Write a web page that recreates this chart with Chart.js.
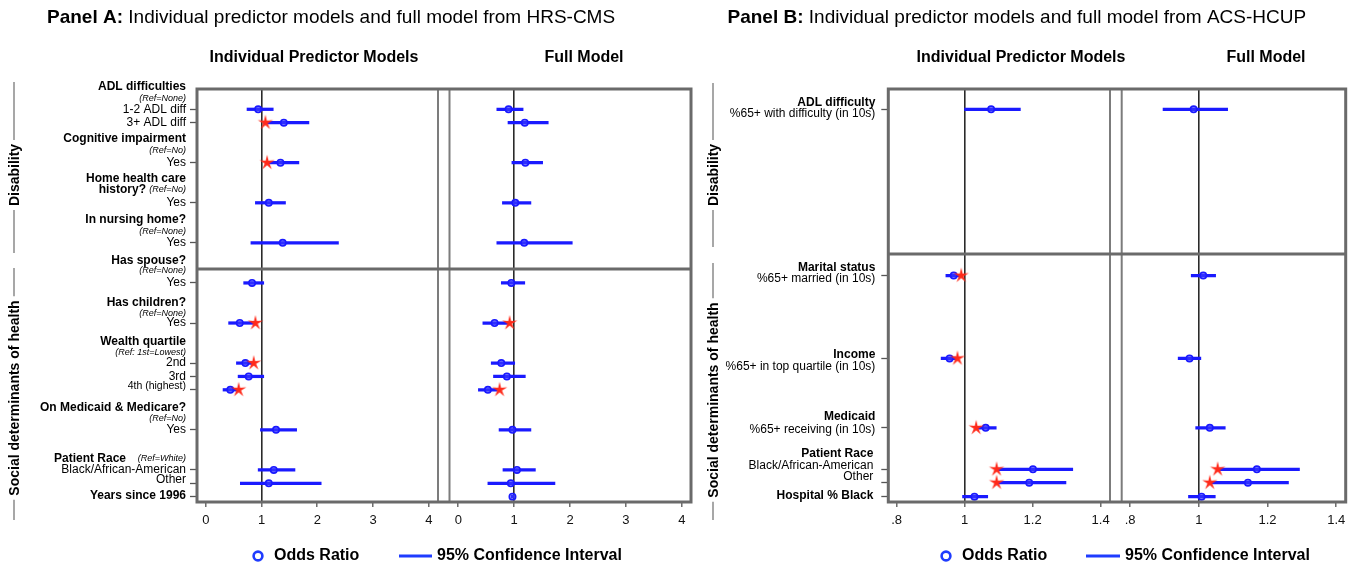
<!DOCTYPE html>
<html>
<head>
<meta charset="utf-8">
<script src="https://cdn.jsdelivr.net/npm/chart.js@4.4.1/dist/chart.umd.min.js"></script>
<style>
html, body { margin: 0; padding: 0; background: #fff; }
#wrap { position: relative; width: 1359px; height: 568px; }
#wrap canvas { position: absolute; left: 0; top: 0; }
</style>
</head>
<body>
<div id="wrap">
  <canvas id="aInd" width="1359" height="568"></canvas>
  <canvas id="aFull" width="1359" height="568"></canvas>
  <canvas id="bInd" width="1359" height="568"></canvas>
  <canvas id="bFull" width="1359" height="568"></canvas>
</div>
<script>
// ---- Panel A data (HRS-CMS) : one entry per row, null = no estimate
var rowsA = [0, 1, 4, 7, 10, 13, 16, 19, 20, 21, 24, 27, 28, 29];
var indOrA = [0.94, 1.40, 1.34, 1.13, 1.38, 0.83, 0.61, 0.71, 0.77, 0.44, 1.26, 1.22, 1.13, null];
var indLoA = [0.74, 1.04, 1.08, 0.89, 0.81, 0.68, 0.41, 0.55, 0.58, 0.31, 0.98, 0.94, 0.62, null];
var indHiA = [1.21, 1.85, 1.67, 1.43, 2.38, 1.04, 0.88, 0.85, 1.04, 0.57, 1.63, 1.60, 2.07, null];
var indStarA = [null, 1.07, 1.10, null, null, null, 0.89, 0.86, null, 0.59, null, null, null, null];
var fullOrA = [0.90, 1.19, 1.20, 1.02, 1.18, 0.95, 0.65, 0.77, 0.87, 0.53, 0.97, 1.05, 0.94, 0.97];
var fullLoA = [0.69, 0.89, 0.96, 0.79, 0.69, 0.77, 0.44, 0.59, 0.63, 0.36, 0.73, 0.80, 0.53, 0.95];
var fullHiA = [1.16, 1.61, 1.51, 1.30, 2.04, 1.19, 0.89, 1.01, 1.20, 0.70, 1.30, 1.38, 1.73, 0.99];
var fullStarA = [null, null, null, null, null, null, 0.92, null, null, 0.74, null, null, null, null];
var ticksA = [0, 1, 2, 3, 4];
var tickLabelsA = ['0', '1', '2', '3', '4'];

// ---- Panel B data (ACS-HCUP)
var rowsB = [0, 12.45, 18.65, 23.85, 26.95, 27.95, 29];
var indOrB = [1.078, 0.968, 0.956, 1.062, 1.201, 1.190, 1.029];
var indLoB = [1.000, 0.945, 0.931, 1.035, 1.095, 1.095, 0.994];
var indHiB = [1.164, 0.985, 0.975, 1.093, 1.318, 1.298, 1.068];
var indStarB = [null, 0.990, 0.979, 1.034, 1.094, 1.094, null];
var fullOrB = [0.985, 1.013, 0.973, 1.032, 1.169, 1.143, 1.008];
var fullLoB = [0.896, 0.978, 0.940, 0.991, 1.060, 1.035, 0.970];
var fullHiB = [1.084, 1.049, 1.006, 1.077, 1.293, 1.261, 1.048];
var fullStarB = [null, null, null, null, 1.055, 1.032, null];
var ticksB = [0.8, 1, 1.2, 1.4];
var tickLabelsB = ['.8', '1', '1.2', '1.4'];

// row labels: [row, text, style, dx]
var labelsA = [
    [-1.69, 'ADL difficulties', 'b'], [-0.82, '(Ref=None)', 'i'],
    [0, '1-2 ADL diff', 'n'], [1, '3+ ADL diff', 'n'],
    [2.22, 'Cognitive impairment', 'b'], [3.05, '(Ref=No)', 'i'], [4, 'Yes', 'n'],
    [5.22, 'Home health care', 'b'], [6.04, 'history?', 'b', -40], [6.04, '(Ref=No)', 'i'], [7, 'Yes', 'n'],
    [8.29, 'In nursing home?', 'b'], [9.16, '(Ref=None)', 'i'], [10, 'Yes', 'n'],
    [11.35, 'Has spouse?', 'b'], [12.1, '(Ref=None)', 'i'], [13, 'Yes', 'n'],
    [14.48, 'Has children?', 'b'], [15.32, '(Ref=None)', 'i'], [16, 'Yes', 'n'],
    [17.4, 'Wealth quartile', 'b'], [18.22, '(Ref: 1st=Lowest)', 'i'],
    [19, '2nd', 'n'], [20, '3rd', 'n'], [20.69, '4th (highest)', 's'],
    [22.34, 'On Medicaid & Medicare?', 'b'], [23.18, '(Ref=No)', 'i'], [24, 'Yes', 'n'],
    [26.12, 'Patient Race', 'b', -60], [26.12, '(Ref=White)', 'i'],
    [27, 'Black/African-American', 'n'], [27.75, 'Other', 'n'],
    [28.92, 'Years since 1996', 'b']
];
var labelsB = [
    [-0.5, 'ADL difficulty', 'b'], [0.3, '%65+ with difficulty (in 10s)', 'n'],
    [11.83, 'Marital status', 'b'], [12.7, '%65+ married (in 10s)', 'n'],
    [18.34, 'Income', 'b'], [19.27, '%65+ in top quartile (in 10s)', 'n'],
    [23.0, 'Medicaid', 'b'], [23.95, '%65+ receiving (in 10s)', 'n'],
    [25.82, 'Patient Race', 'b', -2], [26.68, 'Black/African-American', 'n', -2], [27.5, 'Other', 'n', -2],
    [28.92, 'Hospital % Black', 'b', -2]
];

var W = 1359, H = 568;
var FONT = '"Liberation Sans", Arial, Helvetica, sans-serif';
var BLUE = '#1a1aff';
var RED = '#ff2a1a';
var FRAME = '#6a6a6a';

function makeStar() {
    var c = document.createElement('canvas');
    c.width = 18; c.height = 18;
    var g = c.getContext('2d');
    g.fillStyle = RED;
    g.beginPath();
    for (var k = 0; k < 10; k++) {
        var a = -Math.PI / 2 + k * Math.PI / 5;
        var r = k % 2 == 0 ? 8 : 2.5;
        var px = 9 + r * Math.cos(a), py = 9 + r * Math.sin(a);
        if (k == 0) g.moveTo(px, py); else g.lineTo(px, py);
    }
    g.closePath();
    g.fill();
    return c;
}
var starImg = makeStar();

function forest(id, o) {
    var ci = [], pts = [], stars = [];
    o.rows.forEach(function (r, i) {
        if (o.lo[i] != null) ci.push({y: r, x: [o.lo[i], o.hi[i]]});
        if (o.or[i] != null) pts.push({x: o.or[i], y: r});
        if (o.star[i] != null) stars.push({x: o.star[i], y: r});
    });
    return new Chart(document.getElementById(id), {
        type: 'scatter',
        data: {
            datasets: [
                {type: 'bar', indexAxis: 'y', data: ci, backgroundColor: BLUE, borderWidth: 0, barThickness: 2.6, order: 3},
                {data: pts, pointRadius: 3.2, pointBackgroundColor: 'rgba(60,60,255,0.6)', pointBorderColor: BLUE, pointBorderWidth: 1.6, order: 2},
                {data: stars, pointStyle: starImg, pointRadius: 7, order: 1}
            ]
        },
        options: {
            responsive: false,
            animation: false,
            events: [],
            layout: {padding: {left: o.left, right: W - o.right, top: 89, bottom: 0}},
            plugins: {legend: {display: false}, tooltip: {enabled: false}},
            scales: {
                x: {
                    type: 'linear', min: o.xMin, max: o.xMax, offset: false,
                    afterBuildTicks: function (s) {
                        s.ticks = o.ticks.map(function (v) { return {value: v}; });
                    },
                    afterFit: function (s) { s.height = H - 502; },
                    ticks: {
                        autoSkip: false, maxRotation: 0, padding: 6, color: '#111',
                        font: {family: FONT, size: 13},
                        callback: function (v, i) { return o.tickLabels[i]; }
                    },
                    grid: {
                        offset: false, lineWidth: 1.6, tickLength: 5, tickWidth: 1.3, tickColor: '#555',
                        color: function (c) {
                            return c.tick && Math.abs(c.tick.value - 1) < 1e-9 ? '#2a2a2a' : 'rgba(0,0,0,0)';
                        }
                    },
                    border: {display: false}
                },
                y: {
                    type: 'linear', reverse: true, min: o.yMin, max: o.yMax, offset: false,
                    display: o.yTicks,
                    afterBuildTicks: function (s) {
                        s.ticks = o.rows.map(function (v) { return {value: v}; });
                    },
                    afterFit: function (s) { s.width = 0; },
                    ticks: {display: false, autoSkip: false},
                    grid: {offset: false, drawOnChartArea: false, tickLength: 7, tickWidth: 1.3, tickColor: '#555'},
                    border: {display: false}
                }
            }
        },
        plugins: o.plugins || []
    });
}

function line(ctx, x1, y1, x2, y2) {
    ctx.beginPath(); ctx.moveTo(x1, y1); ctx.lineTo(x2, y2); ctx.stroke();
}
function txt(ctx, s, x, y, font, align) {
    ctx.font = font;
    ctx.textAlign = align || 'left';
    ctx.textBaseline = 'middle';
    ctx.fillStyle = '#000';
    ctx.fillText(s, x, y);
}
var STYLES = {
    b: 'bold 12px ' + FONT,
    n: '12px ' + FONT,
    i: 'italic 9px ' + FONT,
    s: '10.5px ' + FONT
};

function vlabel(ctx, s, x, top, mid, bottom) {
    ctx.font = 'bold 14px ' + FONT;
    var half = ctx.measureText(s).width / 2 + 4;
    ctx.strokeStyle = '#8a8a8a';
    ctx.lineWidth = 1.5;
    line(ctx, x - 1, top, x - 1, mid - half);
    line(ctx, x - 1, mid + half, x - 1, bottom);
    ctx.save();
    ctx.translate(x, mid);
    ctx.rotate(-Math.PI / 2);
    txt(ctx, s, 0, 0, 'bold 14px ' + FONT, 'center');
    ctx.restore();
}

// panel decoration, drawn by the right-hand chart of each panel
function panelPlugin(P) {
    return {
        id: 'panel' + P.key,
        afterDraw: function (chart) {
            var left = P.left;
            var ctx = chart.ctx;
            var la = left.chartArea, ra = chart.chartArea;
            var ys = left.scales.y;
            ctx.save();
            // frames
            ctx.strokeStyle = '#7c7c7c';
            ctx.lineWidth = 2;
            line(ctx, la.right, la.top, la.right, la.bottom);
            line(ctx, ra.left, ra.top, ra.left, ra.bottom);
            ctx.strokeStyle = FRAME;
            ctx.lineWidth = 3;
            ctx.strokeRect(la.left, la.top, ra.right - la.left, la.bottom - la.top);
            var yd = ys.getPixelForValue(P.divider);
            line(ctx, la.left, yd, ra.right, yd);

            // row labels
            P.labels.forEach(function (l) {
                txt(ctx, l[1], la.left + P.labelDx + (l[3] || 0), ys.getPixelForValue(l[0]), STYLES[l[2]], 'right');
            });

            // titles
            ctx.font = 'bold 19px ' + FONT;
            var w = ctx.measureText(P.titleBold + ' ').width;
            txt(ctx, P.titleBold, P.titleX, 18, 'bold 19px ' + FONT);
            txt(ctx, P.title, P.titleX + w, 18, '19px ' + FONT);
            txt(ctx, 'Individual Predictor Models', P.colX[0], 58, 'bold 16px ' + FONT, 'center');
            txt(ctx, 'Full Model', P.colX[1], 58, 'bold 16px ' + FONT, 'center');

            // group labels
            vlabel(ctx, 'Disability', P.gx, P.g1[0], P.g1[1], P.g1[2]);
            vlabel(ctx, 'Social determinants of health', P.gx, P.g2[0], P.g2[1], P.g2[2]);

            // legend
            var lx = P.legX, ly = 556;
            ctx.strokeStyle = '#1f3cff';
            ctx.lineWidth = 2.6;
            ctx.beginPath();
            ctx.arc(lx[0], ly, 4.4, 0, Math.PI * 2);
            ctx.stroke();
            txt(ctx, 'Odds Ratio', lx[1], ly, 'bold 16px ' + FONT);
            ctx.lineWidth = 3;
            line(ctx, lx[2], ly, lx[3], ly);
            txt(ctx, '95% Confidence Interval', lx[4], ly, 'bold 16px ' + FONT);
            ctx.restore();
        }
    };
}

var aInd = forest('aInd', {
    rows: rowsA, or: indOrA, lo: indLoA, hi: indHiA, star: indStarA,
    xMin: -0.157, xMax: 4.165, ticks: ticksA, tickLabels: tickLabelsA,
    yMin: -1.52, yMax: 29.4, yTicks: true, left: 197, right: 438
});
forest('aFull', {
    rows: rowsA, or: fullOrA, lo: fullLoA, hi: fullHiA, star: fullStarA,
    xMin: -0.157, xMax: 4.165, ticks: ticksA, tickLabels: tickLabelsA,
    yMin: -1.52, yMax: 29.4, yTicks: false, left: 449.5, right: 691,
    plugins: [panelPlugin({
        key: 'A', left: aInd, divider: 11.95, labels: labelsA, labelDx: -11,
        titleBold: 'Panel A:', title: 'Individual predictor models and full model from HRS-CMS', titleX: 47,
        colX: [314, 584], gx: 15, g1: [82, 175, 253], g2: [268, 398, 520],
        legX: [258, 274, 399, 432, 437]
    })]
});
var bInd = forest('bInd', {
    rows: rowsB, or: indOrB, lo: indLoB, hi: indHiB, star: indStarB,
    xMin: 0.7757, xMax: 1.4275, ticks: ticksB, tickLabels: tickLabelsB,
    yMin: -1.52, yMax: 29.4, yTicks: true, left: 888.3, right: 1110
});
forest('bFull', {
    rows: rowsB, or: fullOrB, lo: fullLoB, hi: fullHiB, star: fullStarB,
    xMin: 0.7757, xMax: 1.4275, ticks: ticksB, tickLabels: tickLabelsB,
    yMin: -1.52, yMax: 29.4, yTicks: false, left: 1121.7, right: 1345.7,
    plugins: [panelPlugin({
        key: 'B', left: bInd, divider: 10.83, labels: labelsB, labelDx: -13,
        titleBold: 'Panel B:', title: 'Individual predictor models and full model from ACS-HCUP', titleX: 727.5,
        colX: [1021, 1266], gx: 714, g1: [83, 175, 247], g2: [263, 400, 520],
        legX: [946, 962, 1086, 1120, 1125]
    })]
});
</script>
</body>
</html>
